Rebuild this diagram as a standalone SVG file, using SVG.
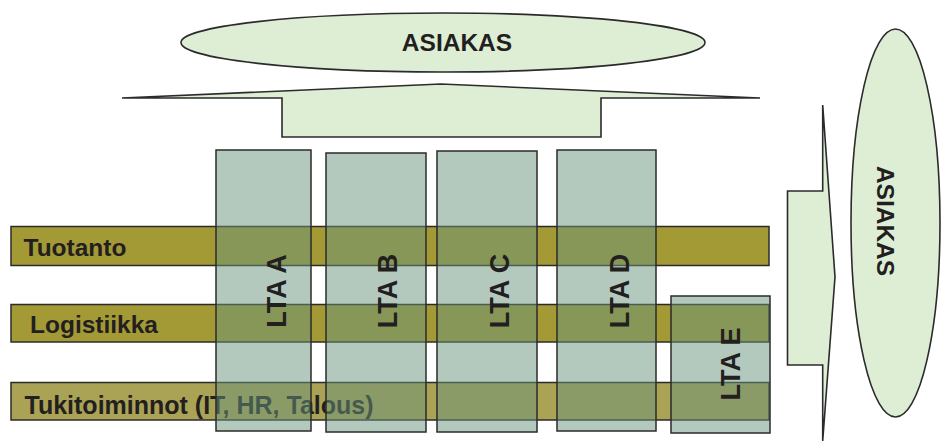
<svg xmlns="http://www.w3.org/2000/svg" width="943" height="443" viewBox="0 0 943 443">
<style>
.lbl{font-family:"Liberation Sans",Arial,sans-serif;font-weight:bold;font-size:24.5px;fill:#231f20}
.lbl2{font-family:"Liberation Sans",Arial,sans-serif;font-weight:bold;font-size:25px;fill:#231f20}
.lta{font-family:"Liberation Sans",Arial,sans-serif;font-weight:bold;font-size:27px;fill:#231f20}
.shape{fill:#ddeed5;stroke:#2b2b2b;stroke-width:1.6}
.bar{fill:#a39a35;stroke:#2b2b2b;stroke-width:1.5}
.bar2{fill:#aaa355;stroke:#2b2b2b;stroke-width:1.5}
.col{fill:#69937b;fill-opacity:0.5;stroke:#2b2b2b;stroke-width:1.5}
</style>
<rect width="943" height="443" fill="#ffffff"/>
<g id="asiakas-top">
<ellipse class="shape" cx="443" cy="42.5" rx="262" ry="29.5"/>
<text class="lbl" x="457" y="51" text-anchor="middle">ASIAKAS</text>
</g>
<g id="connectors">
<polygon class="shape" points="122,98 441,84 760,98 601,98 601,137 282,137 282,98"/>
<polygon class="shape" points="822.7,105 835,277 822.7,441 822.7,365 787.5,365 787.5,191 822.7,191"/>
</g>
<g id="asiakas-right">
<ellipse class="shape" cx="895.5" cy="223" rx="44.5" ry="194"/>
<text class="lbl" transform="translate(877,221) rotate(90)" text-anchor="middle">ASIAKAS</text>
</g>
<g id="tuotanto">
<rect class="bar" x="11" y="226.5" width="758" height="39"/>
<text class="lbl" x="23.5" y="255.5">Tuotanto</text>
</g>
<g id="logistiikka">
<rect class="bar" x="11" y="304.5" width="758" height="37.5"/>
<text class="lbl" x="30" y="333">Logistiikka</text>
</g>
<g id="tukitoiminnot">
<rect class="bar2" x="11" y="382.5" width="758" height="37.5"/>
<text class="lbl2" x="24.5" y="413.5">Tukitoiminnot (IT, HR, Talous)</text>
</g>
<g id="lta-a">
<rect class="col" x="216" y="150" width="95" height="281"/>
<text class="lta" transform="translate(285.5,291) rotate(-90)" text-anchor="middle">LTA A</text>
</g>
<g id="lta-b">
<rect class="col" x="326" y="153" width="100" height="279"/>
<text class="lta" transform="translate(396.5,291) rotate(-90)" text-anchor="middle">LTA B</text>
</g>
<g id="lta-c">
<rect class="col" x="437" y="151" width="100" height="281"/>
<text class="lta" transform="translate(508.5,291) rotate(-90)" text-anchor="middle">LTA C</text>
</g>
<g id="lta-d">
<rect class="col" x="557" y="150" width="99" height="281"/>
<text class="lta" transform="translate(628.5,291) rotate(-90)" text-anchor="middle">LTA D</text>
</g>
<g id="lta-e">
<rect class="col" x="671" y="296" width="99" height="137"/>
<text class="lta" transform="translate(740,364) rotate(-90)" text-anchor="middle">LTA E</text>
</g>
</svg>
